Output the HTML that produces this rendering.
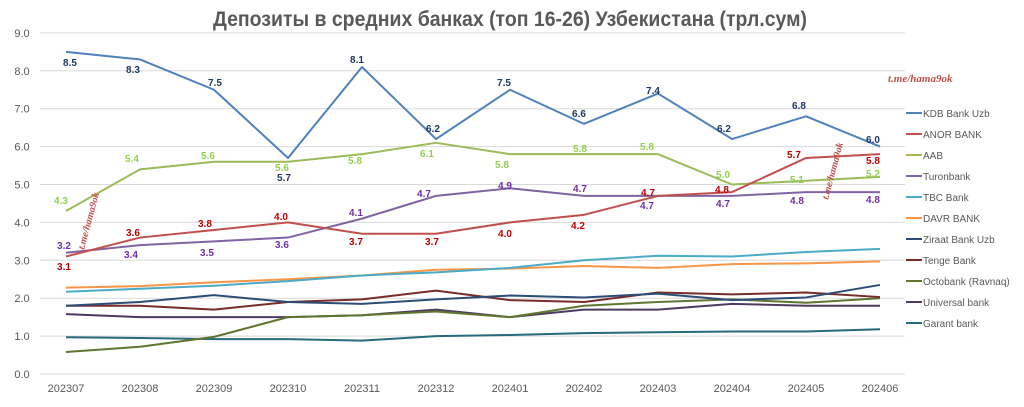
<!DOCTYPE html>
<html><head><meta charset="utf-8"><style>
body{margin:0;background:#fff;}
svg{display:block;font-family:"Liberation Sans",sans-serif;}
</style></head><body>
<svg id="s" width="1024" height="407" xmlns="http://www.w3.org/2000/svg">
<text x="510" y="26" text-anchor="middle" font-size="21" font-weight="bold" fill="#595959" textLength="594" lengthAdjust="spacingAndGlyphs" font-family="'Liberation Sans','Noto Sans CJK SC',sans-serif">Депозиты в средних банках (топ 16-26) Узбекистана (трл.сум)</text>
<g id="grid"></g>
<g id="lines"></g>
<g id="labels" font-size="10" font-weight="bold"></g>
<g id="legend" font-size="10" fill="#595959"></g>
<text x="888" y="82" font-size="11" font-style="italic" font-weight="bold" fill="#c0504d" font-family="'Liberation Serif',serif">t.me/hama9ok</text>
<text transform="translate(84,250) rotate(-75)" font-size="10" font-style="italic" font-weight="bold" fill="#c0504d" font-family="'Liberation Serif',serif">t.me/hama9ok</text>
<text transform="translate(828,200) rotate(-75)" font-size="10" font-style="italic" font-weight="bold" fill="#c0504d" font-family="'Liberation Serif',serif">t.me/hama9ok</text>
</svg>
<script>
var NS="http://www.w3.org/2000/svg";
function el(p,t,a,txt){var e=document.createElementNS(NS,t);for(var k in a)e.setAttribute(k,a[k]);if(txt!=null)e.textContent=txt;document.getElementById(p).appendChild(e);return e;}
function Y(v){return 374-37.9*v;}
function X(i){return 66+74*i;}
for(var v=0;v<=9;v++){
 el("grid","line",{x1:40,x2:905,y1:Y(v),y2:Y(v),stroke:"#d9d9d9","stroke-width":1});
 el("grid","text",{x:22,y:Y(v)+4,"text-anchor":"middle","font-size":11,fill:"#595959"},v.toFixed(1));
}
var months=["202307","202308","202309","202310","202311","202312","202401","202402","202403","202404","202405","202406"];
months.forEach(function(m,i){el("grid","text",{x:X(i),y:392,"text-anchor":"middle","font-size":11,fill:"#595959"},m);});
var S=[
["KDB Bank Uzb","#4f81bd",[8.5,8.3,7.5,5.7,8.1,6.2,7.5,6.6,7.4,6.2,6.8,6.0]],
["ANOR BANK","#c0504d",[3.1,3.6,3.8,4.0,3.7,3.7,4.0,4.2,4.7,4.8,5.7,5.8]],
["AAB","#9bbb59",[4.3,5.4,5.6,5.6,5.8,6.1,5.8,5.8,5.8,5.0,5.1,5.2]],
["Turonbank","#8064a2",[3.2,3.4,3.5,3.6,4.1,4.7,4.9,4.7,4.7,4.7,4.8,4.8]],
["TBC Bank","#4bacc6",[2.17,2.25,2.33,2.45,2.6,2.68,2.8,3.0,3.12,3.1,3.22,3.3]],
["DAVR BANK","#f79646",[2.28,2.32,2.42,2.5,2.6,2.75,2.78,2.85,2.8,2.9,2.92,2.97]],
["Ziraat Bank Uzb","#2c4d75",[1.8,1.9,2.08,1.9,1.85,1.97,2.07,2.02,2.12,1.95,2.02,2.35]],
["Tenge Bank","#772c2a",[1.8,1.8,1.7,1.9,1.97,2.2,1.95,1.9,2.15,2.1,2.15,2.03]],
["Octobank (Ravnaq)","#5f7530",[0.58,0.72,0.98,1.5,1.55,1.65,1.5,1.8,1.9,1.97,1.88,2.0]],
["Universal bank","#4d3b62",[1.58,1.5,1.5,1.5,1.55,1.7,1.5,1.7,1.7,1.85,1.8,1.8]],
["Garant bank","#276a7c",[0.97,0.95,0.92,0.92,0.88,1.0,1.03,1.08,1.1,1.12,1.12,1.18]]
];
S.slice().reverse().forEach(function(s){
 el("lines","polyline",{points:s[2].map(function(v,i){return X(i)+","+Y(v);}).join(" "),fill:"none",stroke:s[1],"stroke-width":2,"stroke-linejoin":"round"});
});
S.forEach(function(s,i){var y=113+21*i;
 el("legend","line",{x1:906,x2:922,y1:y,y2:y,stroke:s[1],"stroke-width":2});
 el("legend","text",{x:923,y:y+4},s[0]);});
var L=[
["#1f3864",[8.5,8.3,7.5,5.7,8.1,6.2,7.5,6.6,7.4,6.2,6.8,6.0],[62,69,82,177,59,128,82,113,90,128,105,139],[70,133,215,284,357,433,504,579,653,724,799,873]],
["#c00000",[3.1,3.6,3.8,4.0,3.7,3.7,4.0,4.2,4.7,4.8,5.7,5.8],[266,232,223,216,241,241,233,225,192,189,154,160],[64,133,205,281,356,432,505,578,648,722,794,873]],
["#92d050",[4.3,5.4,5.6,5.6,5.8,6.1,5.8,5.8,5.8,5.0,5.1,5.2],[200,158,155,167,160,153,164,148,146,174,179,173],[61,132,208,282,355,427,502,580,647,723,797,873]],
["#7030a0",[3.2,3.4,3.5,3.6,4.1,4.7,4.9,4.7,4.7,4.7,4.8,4.8],[245,254,252,244,212,193,185,188,205,203,200,199],[64,131,207,282,356,424,505,580,647,723,797,873]]
];
L.forEach(function(l){l[1].forEach(function(v,i){el("labels","text",{x:l[3][i],y:l[2][i]+4,"text-anchor":"middle",fill:l[0]},v.toFixed(1));});});
</script>
</body></html>
